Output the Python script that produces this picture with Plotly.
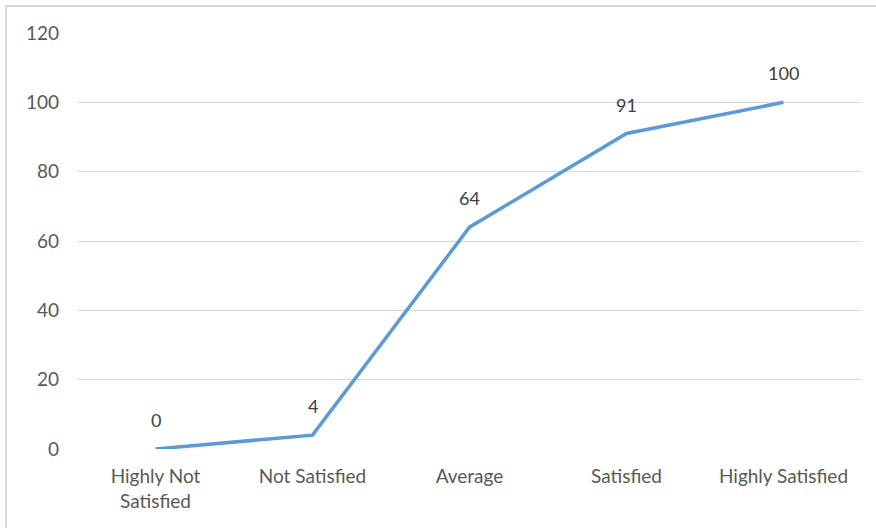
import plotly.graph_objects as go

categories = ["Highly Not<br>Satisfied", "Not Satisfied", "Average", "Satisfied", "Highly Satisfied"]
values = [0, 4, 64, 91, 100]
y_ticks = [0, 20, 40, 60, 80, 100, 120]

W, H = 876, 528
L, R, T, B = 77, 14, 33, 79
pw, ph = W - L - R, H - T - B
FONT = "Lato, Open Sans, sans-serif"

fig = go.Figure()
fig.add_trace(go.Scatter(
    x=categories, y=values, mode="lines",
    line=dict(color="#5B9BD5", width=3.5),
    hoverinfo="skip",
))

for c, v in zip(categories, values):
    fig.add_annotation(x=c, y=v, text=str(v), showarrow=False, yshift=29,
                       font=dict(family=FONT, size=18, color="#404040"))

# outer chart frame
fig.add_shape(type="rect", xref="paper", yref="paper",
              x0=(6 - L) / pw, x1=(W + 10 - L) / pw,
              y0=-(B + 10) / ph, y1=1 + (T - 6) / ph,
              line=dict(color="#d9d9d9", width=2), layer="below")

fig.update_layout(
    width=W, height=H,
    margin=dict(l=L, r=R, t=T, b=B),
    paper_bgcolor="white", plot_bgcolor="white",
    showlegend=False,
    font=dict(family=FONT, size=19, color="#595959"),
    xaxis=dict(type="category", range=[-0.5, 4.5], showgrid=False, zeroline=False,
               showline=False, ticks="", ticklabelstandoff=14,
               tickfont=dict(size=19, color="#595959"), fixedrange=True),
    yaxis=dict(range=[0, 120], tickvals=y_ticks, showgrid=True, gridcolor="#d9d9d9",
               gridwidth=1, zeroline=False, showline=False, ticks="",
               ticklabelstandoff=17, tickfont=dict(size=19, color="#595959"),
               fixedrange=True),
)

fig.write_html("out.html")
